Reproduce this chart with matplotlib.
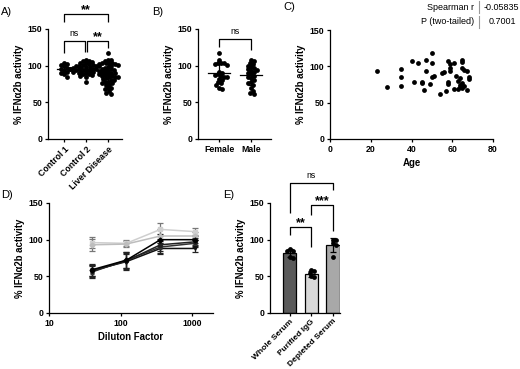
import numpy as np
import matplotlib
matplotlib.use("Agg")
import matplotlib.pyplot as plt

plt.rcParams['font.family'] = ['Liberation Sans', 'DejaVu Sans']
plt.rcParams['font.size'] = 6.3
plt.rcParams['font.weight'] = 'bold'
plt.rcParams['axes.labelweight'] = 'bold'
plt.rcParams['axes.labelsize'] = 6.9
plt.rcParams['axes.linewidth'] = 0.9
plt.rcParams['xtick.major.width'] = 0.9
plt.rcParams['ytick.major.width'] = 0.9
plt.rcParams['xtick.major.size'] = 2.5
plt.rcParams['ytick.major.size'] = 2.5
plt.rcParams['xtick.major.pad'] = 1.5
plt.rcParams['ytick.major.pad'] = 1.5

# ---- data ----
control1 = [104, 102, 101, 99, 97, 96, 95, 93, 92, 90, 88, 85]
control2 = [108, 107, 106, 105, 104, 103, 102, 101, 101, 100, 100, 99, 99, 98, 98,
            97, 97, 96, 96, 96, 95, 95, 95, 94, 94, 94, 93, 93, 92, 92, 91, 91,
            90, 90, 89, 88, 87, 86, 84, 78]
female = [117, 108, 104, 104, 103, 102, 101, 92, 90, 88, 87, 86, 85, 84, 82, 80,
          78, 76, 74, 70, 68]
male = [108, 107, 104, 102, 100, 98, 97, 95, 94, 93, 91, 90, 88, 86, 85, 83, 80,
        78, 76, 74, 70, 66, 63, 62]
liver = female + male
groups_a = ['Control 1', 'Control 2', 'Liver Disease']
groups_b = ['Female', 'Male']

age = [23, 28, 35, 35, 35, 40, 41, 43, 45, 45, 46, 47, 47, 49, 50, 50, 50, 51, 54,
       55, 56, 57, 58, 58, 58, 59, 59, 59, 61, 61, 62, 63, 63, 64, 64, 64, 65, 65,
       65, 65, 65, 66, 66, 67, 67, 68, 68]
activity_c = [93, 72, 97, 86, 73, 108, 79, 104, 79, 77, 67, 109, 93, 75, 118, 104,
              85, 87, 62, 91, 92, 66, 108, 78, 76, 103, 98, 93, 104, 69, 87, 69, 80,
              84, 74, 72, 109, 106, 98, 77, 70, 73, 95, 93, 68, 86, 83]
spearman_r = '-0.05835'
p_value = '0.7001'

dilution = [40, 120, 360, 1080]
d_light1 = [96, 95, 114, 111]
d_light2 = [93, 94, 105, 105]
d_dark1 = [59, 72, 100, 100]
d_dark2 = [57, 71, 93, 97]
d_dark3 = [56, 72, 90, 95]
d_dark4 = [58, 70, 88, 88]
d_err_light = [8, 4, 9, 5]
d_err_dark = [8, 11, 8, 5]

groups_e = ['Whole Serum', 'Purified IgG', 'Depleted Serum']
whole = [87, 85, 84, 77, 75]
purified = [58, 57, 54, 50, 49]
depleted = [100, 99, 95, 93, 77]
bar_colors = ['#5a5a5a', '#d8d8d8', '#a8a8a8']

ylabel = '% IFN\u03b12b activity'

fig = plt.figure(figsize=(5.2, 3.69), dpi=100)


def ax_at(l, r, t, b):
    return fig.add_axes([l / 520, 1 - b / 369, (r - l) / 520, (b - t) / 369])


def style(ax):
    for s in ['top', 'right']:
        ax.spines[s].set_visible(False)
    ax.set_ylim(0, 150)
    ax.set_yticks([0, 50, 100, 150])
    ax.set_ylabel(ylabel, labelpad=3)


def swarm(vals, xpx_per_unit, ypx_per_unit=110 / 150, d=3.0):
    # simple beeswarm: nudge points sideways until they stop overlapping
    order = np.argsort(vals)[::-1]
    placed = []
    offs = np.zeros(len(vals))
    for i in order:
        y = vals[i] * ypx_per_unit
        for k in range(60):
            o = ((k + 1) // 2) * (1 if k % 2 else -1) * d * 0.5
            if all((o - po) ** 2 + (y - py) ** 2 >= d * d for po, py in placed):
                break
        placed.append((o, y))
        offs[i] = o / xpx_per_unit
    return offs


def bracket(ax, x1, x2, y, y1, y2, text, star=True):
    ax.plot([x1, x1, x2, x2], [y1, y, y, y2], color='black', lw=0.9,
            clip_on=False, solid_capstyle='butt')
    if star:
        ax.text((x1 + x2) / 2, y - 3, text, ha='center', va='bottom',
                fontsize=9, fontweight='bold')
    else:
        ax.text((x1 + x2) / 2, y + 4, text, ha='center', va='bottom',
                fontsize=6.3, fontweight='normal')


def dot_group(ax, groups_vals, xpx, half):
    for i, vals in enumerate(groups_vals):
        vals = np.array(vals, dtype=float)
        offs = swarm(vals, xpx)
        ax.scatter(i + offs, vals, s=12, color='black', lw=0, zorder=3,
                   clip_on=False)
        m, sd = vals.mean(), vals.std(ddof=1)
        ax.plot([i - half, i + half], [m, m], color='black', lw=0.9, zorder=4)
        ax.errorbar(i, m, yerr=sd, color='black', lw=0.9, capsize=2,
                    capthick=0.9, zorder=4)


# ---- A ----
ax = ax_at(48, 122, 29, 139)
style(ax)
dot_group(ax, [control1, control2, liver], 22, 0.3)
ax.set_xlim(-0.73, 2.64)
ax.set_xticks(range(3))
ax.set_xticklabels(groups_a, rotation=45, ha='right', rotation_mode='anchor')
bracket(ax, 0, 0.95, 134, 117, 119, 'ns', star=False)
bracket(ax, 1.05, 2, 134, 119, 124, '**')
bracket(ax, 0, 2, 170, 160, 160, '**')

# ---- B ----
ax = ax_at(198, 271, 29, 139)
style(ax)
dot_group(ax, [female, male], 32, 0.35)
ax.set_xlim(-0.66, 1.625)
ax.set_xticks(range(2))
ax.set_xticklabels(groups_b)
bracket(ax, 0, 1, 136, 126, 121, 'ns', star=False)

# ---- C ----
ax = ax_at(330, 493, 30, 139)
style(ax)
ax.scatter(age, activity_c, s=12, color='black', lw=0, zorder=3)
ax.set_xlim(0, 80)
ax.set_xticks([0, 20, 40, 60, 80])
ax.set_xlabel('Age', labelpad=3)
fig.text(474 / 520, 1 - 7 / 369, 'Spearman r', ha='right', va='center',
         fontsize=6.5, fontweight='normal')
fig.text(474 / 520, 1 - 22 / 369, 'P (two-tailed)', ha='right', va='center',
         fontsize=6.5, fontweight='normal')
fig.text(484 / 520, 1 - 7 / 369, spearman_r, ha='left', va='center',
         fontsize=6.5, fontweight='normal')
fig.text(489 / 520, 1 - 22 / 369, p_value, ha='left', va='center',
         fontsize=6.5, fontweight='normal')
for y0, y1 in [(1, 13), (16, 28)]:
    fig.add_artist(plt.Line2D([479 / 520, 479 / 520], [1 - y0 / 369, 1 - y1 / 369],
                              color='#999999', lw=0.8))

# ---- D ----
ax = ax_at(49, 213, 203, 313)
style(ax)
ax.set_xscale('log')
ax.set_xlim(10, 1950)
lines = [(d_light1, d_err_light, '#cfcfcf', 's', '#777777'),
         (d_light2, d_err_light, '#bdbdbd', 'D', '#777777'),
         (d_dark4, d_err_dark, '#111111', 'v', '#222222'),
         (d_dark3, d_err_dark, '#333333', '^', '#222222'),
         (d_dark2, d_err_dark, '#222222', 'o', '#222222'),
         (d_dark1, d_err_dark, '#000000', 'D', '#222222')]
for vals, err, c, mk, ec in lines:
    ax.errorbar(dilution, vals, yerr=err, color=c, marker=mk, ms=2.5, lw=1.1,
                capsize=2, capthick=0.9, elinewidth=0.9, ecolor=ec)
ax.set_xticks([10, 100, 1000])
ax.set_xticklabels(['10', '100', '1000'])
ax.xaxis.set_minor_locator(matplotlib.ticker.NullLocator())
ax.set_xlabel('Diluton Factor', labelpad=3)

# ---- E ----
ax = ax_at(270, 340, 203, 313)
style(ax)
for i, vals in enumerate([whole, purified, depleted]):
    vals = np.array(vals, dtype=float)
    m, sd = vals.mean(), vals.std(ddof=1)
    ax.bar(i, m, width=0.62, color=bar_colors[i], edgecolor='black', lw=0.9,
           zorder=2)
    ax.errorbar(i, m, yerr=sd, color='black', lw=0.9, capsize=2, capthick=0.9,
                zorder=3)
    offs = swarm(vals, 22)
    ax.scatter(i + offs, vals, s=12, color='black', lw=0, zorder=4)
ax.set_xlim(-0.9, 2.32)
ax.set_xticks(range(3))
ax.set_xticklabels(groups_e, rotation=45, ha='right', rotation_mode='anchor',
                   fontsize=6.0)
ax.tick_params(axis='x', pad=1)
bracket(ax, 0, 1, 117, 106, 90, '**')
bracket(ax, 1, 2, 147, 134, 112, '***')
bracket(ax, 0, 2, 177, 136, 168, 'ns', star=False)

# ---- panel letters ----
for lab, x, y in [('A)', 1, 12), ('B)', 152, 12), ('C)', 283, 7),
                  ('D)', 1, 195), ('E)', 223, 195)]:
    fig.text(x / 520, 1 - y / 369, lab, ha='left', va='center', fontsize=8,
             fontweight='normal')

fig.savefig('out.png', dpi=100)
